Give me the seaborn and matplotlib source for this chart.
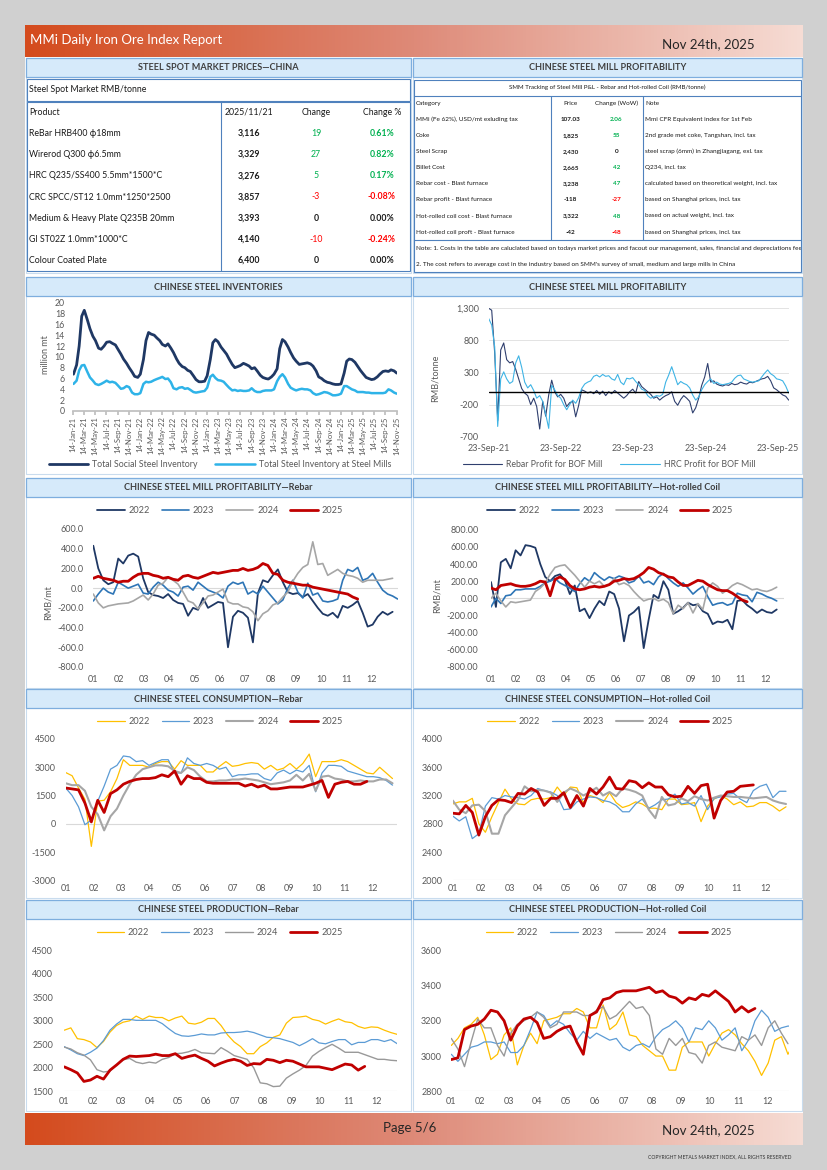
import numpy as np
import pandas as pd
import matplotlib
matplotlib.use("Agg")
import matplotlib.pyplot as plt
import seaborn as sns
from matplotlib.patches import Rectangle
from matplotlib.colors import LinearSegmentedColormap
from matplotlib.transforms import Bbox

# ---------------- table data ----------------
spot_date = "2025/11/21"
spot_products = ["ReBar HRB400 ϕ18mm", "Wirerod Q300 ϕ6.5mm", "HRC Q235/SS400 5.5mm*1500*C",
                 "CRC SPCC/ST12 1.0mm*1250*2500", "Medium & Heavy Plate Q235B 20mm",
                 "GI ST02Z 1.0mm*1000*C", "Colour Coated Plate"]
spot_prices = [3116, 3329, 3276, 3857, 3393, 4140, 6400]
spot_change = [19, 27, 5, -3, 0, -10, 0]
spot_change_pct = [0.61, 0.82, 0.17, -0.08, 0.00, -0.24, 0.00]

pl_categories = ["MMi (Fe 62%), USD/mt exluding tax", "Coke", "Steel Scrap", "Billet Cost",
                 "Rebar cost - Blast furnace", "Rebar profit - Blast furnace",
                 "Hot-rolled coil cost - Blast furnace", "Hot-rolled coil proft - Blast furnace"]
pl_prices = ["107.03", "1,825", "2,430", "2,665", "3,238", "-118", "3,322", "-42"]
pl_change = [2.06, 55, 0, 42, 47, -27, 48, -48]
pl_notes = ["Mmi CFR Equivalent index for 1st Feb", "2nd grade met coke, Tangshan, incl. tax",
            "steel scrap (6mm) in Zhangjiagang, exl. tax", "Q234, incl. tax",
            "calculated based on theoretical weight, incl. tax", "based on Shanghai prices, incl. tax",
            "based on actual weight, incl. tax", "based on Shanghai prices, incl. tax"]

# ---------------- inventories (million mt, semi-monthly from mid Jan-21) ----------------
social_inventory = [
    6.8, 8.5, 12.0, 17.5, 18.6, 16.8, 15.2, 13.8, 13.0, 11.6, 11.4, 12.0, 12.7, 12.8, 12.5, 12.2, 11.4, 10.5, 9.6, 8.8, 8.0, 7.2, 6.4,
    6.2, 6.8, 9.5, 13.0, 14.5, 14.2, 14.0, 13.5, 13.0, 12.3, 12.0, 12.4, 11.6, 10.8, 9.6, 8.8, 8.2, 8.0, 7.5, 7.3, 6.5, 5.8, 5.4, 5.4,
    5.5, 6.5, 9.5, 12.6, 13.2, 12.8, 11.8, 11.2, 10.5, 9.6, 8.6, 8.0, 8.2, 8.4, 8.8, 8.6, 8.3, 7.8, 8.0, 7.4, 6.6, 6.2, 6.0, 5.9,
    6.3, 6.8, 7.8, 11.5, 13.2, 12.8, 11.8, 10.8, 9.8, 9.2, 8.6, 8.7, 8.8, 8.9, 8.7, 8.3, 7.4, 6.3, 6.0, 5.6, 5.3, 5.2, 5.0, 4.9,
    4.9, 5.0, 7.0, 9.2, 9.6, 9.5, 9.0, 8.3, 7.5, 6.9, 6.2, 6.0, 5.8, 5.9, 6.3, 6.8, 7.3, 7.4, 7.3, 7.6, 7.4, 7.0]
mill_inventory = [
    5.0, 5.6, 7.5, 8.4, 8.5, 7.2, 6.2, 5.6, 5.0, 4.8, 5.0, 5.3, 5.6, 5.3, 5.4, 5.2, 4.7, 4.1, 4.2, 4.6, 4.4, 3.4, 3.1,
    3.1, 3.3, 5.0, 5.4, 5.3, 5.4, 5.7, 5.9, 6.1, 6.3, 5.9, 6.0, 5.3, 4.2, 4.0, 4.3, 4.4, 4.1, 4.2, 3.9, 3.5, 3.4, 3.5, 3.6,
    3.7, 4.3, 6.3, 6.7, 6.1, 5.7, 5.6, 5.4, 4.8, 4.3, 3.8, 3.9, 3.7, 3.8, 3.7, 3.7, 3.8, 4.2, 3.7, 3.5, 3.5, 3.7, 3.8, 3.8,
    3.8, 4.0, 5.5, 6.3, 6.8, 6.2, 5.0, 4.3, 4.0, 3.8, 4.0, 4.1, 4.0, 4.0, 3.8, 3.3, 3.0, 3.1, 3.3, 3.5, 3.4, 3.2, 2.9, 2.9,
    3.0, 3.2, 4.6, 4.6, 4.3, 4.0, 3.8, 3.5, 3.5, 3.5, 3.4, 3.4, 3.3, 3.3, 3.3, 3.3, 3.3, 3.4, 4.0, 3.8, 3.4, 3.2]

# ---------------- BOF mill profit (RMB/tonne, semi-monthly Sep-21 .. Nov-25) ----------------
bof_rebar_profit = [
    1300, 1270, 600, -450, 650, 760, 500, 450, 470, 350, 200, 50, -20, -60, -200, -100, -230, -580, -150, -380,
    -50, 180, 0, -80, -40, -100, -230, -170, -150, -390, -210, 30, 10, -20, 0, -30, 20, -40, 10, -60,
    0, -30, 20, -20, -60, -100, -60, 0, 40, -20, 160, 80, 40, 0, -40, -100, -80, -130, -90, -60,
    -40, 0, -150, -210, -120, -60, -100, -150, -330, -250, -100, 100, 230, 440, 150, 170, 120, 100, 90, 110,
    100, 130, 110, 120, 150, 130, 120, 150, 140, 160, 180, 200, 210, 240, 170, 60, 30, -10, -50, -70, -130]
bof_hrc_profit = [
    1140, 1040, 700, -540, 200, 310, 200, 130, 160, 450, 560, 380, 150, 60, 110, 20, -100, -60, -150, -350,
    -570, 100, 30, -60, -100, -200, -280, -200, -130, -180, -90, 50, 120, 150, 170, 240, 260, 230, 270, 240,
    250, 200, 180, 270, 150, 110, 210, 200, 220, 160, 110, 40, 20, -60, -100, -80, -60, -70, -40, 150,
    260, 390, 250, 110, 160, 130, 110, 60, -50, -130, -80, 30, 110, 160, 200, 130, 150, 120, 110, 120,
    130, 150, 210, 250, 260, 200, 180, 160, 150, 160, 170, 230, 290, 340, 280, 250, 200, 190, 170, 90, -20]

# ---------------- rebar profit by year (RMB/mt, every 6 days) ----------------
rebar_profit_2022 = [430, 200, 80, 40, 60, 300, 250, 330, 350, 320, 100, -40, -70, -80, -100, -60, -120, -150, -160, -280,
                     -200, -220, -100, -200, -170, -140, -150, -600, -290, -230, -250, -300, -550, -50, 80, 60, 130, 190, 60, -40,
                     -60, -50, -90, -60, -130, -200, -260, -280, -250, -300, -180, -200, -170, -130, -250, -390, -370, -290, -240, -270, -240]
rebar_profit_2023 = [-130, -60, 0, -40, -60, 60, 30, 0, 20, 40, -50, -60, 10, 60, 30, -20, -40, -80, 10, 20,
                     -20, 60, 20, -20, -40, -60, -100, 20, 60, 40, 60, -60, -30, -60, 20, -40, -100, -160, -120, 0,
                     80, -40, -100, 50, -70, -50, -130, -140, -130, -110, 80, 190, 170, 210, 80, 100, 150, 60, -20, -60, -80, -110]
rebar_profit_2024 = [-60, -150, -200, -180, -170, -160, -155, -150, -130, -100, -70, -120, -60, 30, 50, 110, 80, 40, -40, -130,
                     -150, -210, -150, -80, -70, -40, -10, -140, -160, -160, -190, -200, -240, -330, -260, -230, -170, -150, -90, -40,
                     70, 150, 210, 240, 470, 240, 250, 130, 160, 190, 150, 130, 120, 100, 60, 80, 80, 80, 80, 90, 100]
rebar_profit_2025 = [100, 120, 100, 90, 80, 60, 70, 70, 110, 140, 150, 150, 130, 120, 100, 110, 90, 80, 120, 130,
                     110, 100, 120, 140, 160, 150, 160, 170, 180, 180, 200, 180, 190, 210, 250, 230, 150, 140, 80, 60,
                     50, 40, 30, 30, 10, 0, -10, -20, -30, -40, -50, -60, -90, -110]

# ---------------- HRC profit by year (RMB/mt, every 6 days) ----------------
hrc_profit_2022 = [190, -100, 420, 460, 350, 560, 500, 620, 610, 590, 400, 250, 200, 260, 280, 210, 50, 150, -150, -120,
                   -230, -120, -30, -80, 80, 50, -120, -500, -200, -160, -100, -580, -250, 40, 0, 200, 100, -180, -150, -110,
                   -50, -80, -70, -150, -180, -300, -270, -280, -250, -360, -30, -20, -80, -120, -170, -130, -160, -170, -130]
hrc_profit_2023 = [-100, 0, -60, 30, 40, 100, 100, 110, 110, 110, 140, 180, 200, 230, 180, 150, 120, 80, 170, 240,
                   200, 300, 250, 210, 250, 230, 260, 240, 180, 200, 260, 180, 200, 160, 250, 290, 230, 180, 140, 180,
                   120, 50, 100, 140, 20, -80, -60, -50, -80, -60, 60, 40, 30, -40, 70, 50, 20, 0, -30]
hrc_profit_2024 = [0, 60, -30, -100, -40, -50, -40, -30, -20, 80, 120, 180, 280, 360, 380, 390, 330, 270, 200, 130,
                   200, 170, 200, 140, 160, 230, 160, 180, 150, 80, 20, -30, -10, 0, -30, -10, -50, -180, -80, -120,
                   -50, -170, -60, -130, 120, 180, 140, 60, 100, 150, 180, 160, 130, 100, 110, 90, 80, 100, 130]
hrc_profit_2025 = [120, 100, 150, 160, 170, 150, 140, 140, 150, 170, 200, 190, 30, 220, 250, 220, 150, 110, 100, 110,
                   130, 140, 130, 140, 160, 200, 210, 230, 220, 230, 260, 300, 360, 340, 300, 280, 250, 240, 190, 150,
                   150, 180, 210, 200, 160, 130, 100, 90, 90, 60, 20, -20, -40]

# ---------------- consumption (weekly) ----------------
cons_rebar_2022 = [2720, 2550, 1900, 1300, -1200, 1200, 1250, 1700, 2400, 3400, 3100, 3100, 3100, 3000, 3200, 3300, 3300, 2900,
                   3350, 3100, 3100, 3100, 2750, 2750, 3050, 3300, 3050, 3100, 3200, 3250, 3200, 2900, 3100, 2850, 2950, 3200,
                   2900, 3200, 3700, 2500, 3300, 3300, 3300, 3400, 3300, 3100, 2900, 2700, 2650, 3000, 2700, 2400]
cons_rebar_2023 = [1900, 1500, 900, -50, 200, 1200, 2000, 2900, 3100, 3600, 3550, 3300, 3350, 3100, 3250, 3400, 3400, 2700,
                   2700, 3500, 3200, 3100, 3200, 3100, 2900, 3000, 2500, 2600, 2600, 2650, 2650, 2400, 2300, 2700, 2850, 2650,
                   2850, 2750, 3100, 1700, 2700, 3100, 3100, 3050, 2800, 2700, 2600, 2500, 2500, 2450, 2300, 2050]
cons_rebar_2024 = [2150, 2050, 2050, 1750, 900, 500, -350, 400, 800, 1500, 2100, 2600, 2900, 3000, 3100, 3100, 3050, 2800,
                   2700, 3000, 2850, 2500, 2250, 2250, 2300, 2300, 2350, 2350, 2400, 2350, 2300, 2200, 2100, 2150, 2200, 2300,
                   2600, 2300, 2650, 1750, 2500, 2550, 2400, 2350, 2250, 2250, 2300, 2250, 2250, 2350, 2350, 2150]
cons_rebar_2025 = [1900, 1850, 1800, 1100, 100, 1250, 600, 1600, 1800, 2100, 2250, 2350, 2400, 2400, 2450, 2600, 2500, 2800,
                   2100, 2550, 2400, 2400, 2200, 2150, 2150, 2150, 2150, 2150, 2000, 2100, 1950, 2050, 1850, 1850, 1900, 1950,
                   1950, 1950, 2050, 2150, 2300, 1400, 2100, 2200, 2250, 2100, 2100, 2250]

cons_hrc_2022 = [3080, 3110, 3110, 3160, 2800, 2680, 2900, 3100, 3290, 3150, 3080, 3070, 3140, 3160, 3150, 3170, 3320, 3200,
                 3320, 3310, 3100, 3200, 3170, 3100, 3240, 3100, 3030, 3060, 3110, 3080, 3020, 3020, 3000, 3150, 3150, 3070,
                 3080, 3100, 2830, 3050, 3150, 3200, 3150, 3070, 3110, 3040, 3050, 3100, 3100, 3050, 2980, 3040]
cons_hrc_2023 = [2910, 2840, 2900, 2590, 2660, 3050, 3170, 3150, 3200, 3180, 3170, 3150, 3200, 3300, 3270, 3250, 3200, 3000,
                 3010, 3110, 3150, 3180, 3170, 3130, 3110, 3060, 2970, 2970, 3080, 3150, 3020, 3070, 3140, 3150, 3220, 3080,
                 3100, 3050, 3200, 3000, 3160, 3180, 3220, 3230, 3150, 3100, 3270, 3330, 3360, 3170, 3260, 3260]
cons_hrc_2024 = [3130, 3000, 2950, 3060, 3070, 2980, 2660, 2660, 2920, 3030, 3140, 3330, 3260, 3280, 3270, 3240, 3110, 3240,
                 3300, 3260, 3200, 3250, 3310, 3200, 3250, 3190, 3300, 3280, 3250, 3200, 3000, 2880, 3180, 3060, 3080, 3160,
                 3120, 3190, 3150, 3130, 3170, 3200, 3190, 3180, 3180, 3170, 3160, 3170, 3180, 3130, 3100, 3080]
cons_hrc_2025 = [2950, 2940, 3060, 2960, 2640, 2900, 3060, 3140, 3130, 3100, 3230, 3220, 3300, 3250, 3060, 3160, 3160, 3240,
                 3030, 3200, 3050, 3300, 3220, 3320, 3460, 3300, 3290, 3410, 3390, 3310, 3380, 3320, 3320, 3210, 3180, 3190,
                 3330, 3230, 3340, 3360, 2880, 3130, 3250, 3260, 3330, 3340, 3350]

# ---------------- production (weekly) ----------------
prod_rebar_2022 = [2800, 2850, 2620, 2600, 2550, 2430, 2560, 2760, 2900, 2970, 3000, 3100, 3030, 3100, 3070, 3070, 3000, 3060,
                   3100, 2950, 2930, 2970, 3050, 3050, 2900, 2700, 2550, 2450, 2300, 2300, 2450, 2530, 2650, 2700, 2950, 3070,
                   3080, 3100, 3030, 3000, 2930, 2990, 3040, 2980, 2960, 2880, 2840, 2870, 2860, 2800, 2750, 2710]
prod_rebar_2023 = [2450, 2380, 2300, 2260, 2330, 2420, 2580, 2800, 2930, 3030, 3030, 3010, 3010, 3010, 3010, 2940, 2830, 2730,
                   2680, 2670, 2690, 2720, 2700, 2700, 2740, 2750, 2750, 2760, 2780, 2750, 2700, 2650, 2640, 2620, 2580, 2540,
                   2470, 2540, 2620, 2530, 2510, 2560, 2600, 2600, 2490, 2540, 2540, 2600, 2600, 2560, 2600, 2510]
prod_rebar_2024 = [2440, 2400, 2320, 2270, 2170, 1960, 1910, 1930, 2060, 2170, 2200, 2120, 2090, 2120, 2100, 2180, 2220, 2300,
                   2310, 2340, 2390, 2320, 2310, 2300, 2430, 2350, 2260, 2220, 2180, 2000, 1680, 1660, 1600, 1610, 1780, 1870,
                   1950, 2050, 2250, 2350, 2430, 2500, 2420, 2330, 2330, 2330, 2280, 2230, 2180, 2180, 2160, 2150]
prod_rebar_2025 = [2020, 1960, 1890, 1710, 1740, 1820, 1760, 1950, 2060, 2180, 2250, 2240, 2250, 2260, 2290, 2260, 2260, 2300,
                   2200, 2240, 2270, 2200, 2140, 2040, 2100, 2150, 2180, 2140, 2050, 2090, 2080, 2180, 2160, 2110, 2160, 2140,
                   2080, 2020, 2020, 2020, 1990, 1960, 2020, 2080, 2060, 1950, 2030]

prod_hrc_2022 = [3060, 3100, 3160, 3180, 3220, 3120, 2980, 3010, 3120, 3160, 2950, 3060, 3130, 3070, 3200, 3210, 3220, 3240,
                 3240, 3270, 3250, 3160, 3160, 3290, 3150, 3180, 3250, 3120, 3110, 3060, 3030, 3000, 3000, 2920, 2920, 3050,
                 3080, 3080, 3080, 3000, 3070, 3130, 3150, 3120, 3070, 3030, 2970, 2890, 2960, 3090, 3110, 3010, 3080]
prod_hrc_2023 = [3010, 2970, 3010, 3050, 3060, 3080, 3080, 3070, 3080, 3020, 3020, 3060, 3150, 3250, 3230, 3170, 3200, 3180,
                 3130, 3090, 3140, 3100, 3130, 3110, 3090, 3100, 3050, 3030, 3060, 3070, 3050, 3110, 3150, 3170, 3200, 3160,
                 3080, 3160, 3150, 3200, 3160, 3090, 3120, 3160, 3030, 3090, 3200, 3260, 3220, 3140, 3160, 3170, 3170]
prod_hrc_2024 = [3100, 3040, 2940, 3080, 3210, 3160, 3160, 3060, 3000, 3130, 3180, 3200, 3220, 3250, 3220, 3160, 3180, 3250,
                 3250, 3250, 3230, 3230, 3260, 3280, 3210, 3230, 3270, 3310, 3270, 3280, 3230, 3040, 3010, 3100, 3060, 3100,
                 3020, 3010, 2960, 3060, 3080, 3050, 3040, 3030, 3110, 3090, 3120, 3060, 3160, 3200, 3130, 3070]
prod_hrc_2025 = [2980, 2990, 3150, 3170, 3180, 3210, 3260, 3250, 3200, 3090, 3170, 3210, 3220, 3190, 3100, 3110, 3140, 3160,
                 3170, 3080, 3010, 3230, 3250, 3320, 3330, 3360, 3370, 3370, 3370, 3380, 3390, 3360, 3370, 3340, 3330, 3300,
                 3330, 3320, 3350, 3340, 3370, 3340, 3310, 3250, 3280, 3250, 3270]

month_labels = ["01", "02", "03", "04", "05", "06", "07", "08", "09", "10", "11", "12"]
years = ["2022", "2023", "2024", "2025"]

# ---------------- styling ----------------
sns.set_theme(style="white")
plt.rcParams["font.family"] = ["Lato", "DejaVu Sans"]
plt.rcParams["axes.unicode_minus"] = False

W, H = 828, 1170
fig = plt.figure(figsize=(W / 100, H / 100), dpi=100, facecolor="#d0d0d0")

NAVY = "#1f3864"
BLUE = "#2e75b6"
GREY = "#a6a6a6"
RED = "#c00000"
YELLOW = "#ffc000"
LBLUE = "#5b9bd5"
TXT = "#595959"
GREEN = "#00b050"
NEG = "#ff0000"


def box(x0, y0, x1, y1):
    return [x0 / W, 1 - y1 / H, (x1 - x0) / W, (y1 - y0) / H]


page = fig.add_axes([0, 0, 1, 1])
page.axis("off")
page.add_patch(Rectangle((25, 57), 778, 1056, fc="white", ec="none"))

hdr_cmap = LinearSegmentedColormap.from_list("hdr", ["#d44b1d", "#de8a78", "#f6dcd4"])
grad = np.linspace(0, 1, 256)[None, :]
page.imshow(grad, extent=(25, 803, 57, 25), cmap=hdr_cmap, aspect="auto", zorder=1)
page.imshow(grad, extent=(25, 803, 1145, 1113), cmap=hdr_cmap, aspect="auto", zorder=1)
page.set_xlim(0, W)
page.set_ylim(H, 0)

page.text(30, 40, "MMi Daily Iron Ore Index Report", color="white", fontsize=9.5, va="center", ha="left")
page.text(755, 44, "Nov 24th, 2025", color="#262626", fontsize=9.5, va="center", ha="right")
page.text(410, 1128, "Page 5/6", color="#262626", fontsize=9.5, va="center", ha="center")
page.text(755, 1130, "Nov 24th, 2025", color="#262626", fontsize=9.5, va="center", ha="right")
page.text(792, 1157, "COPYRIGHT METALS MARKET INDEX, ALL RIGHTS RESERVED", color="#333333",
          fontsize=3.6, va="center", ha="right")

rows = [(58, 273), (277, 474), (478, 688), (689, 898), (900, 1111)]
cols = [(26, 411), (413, 802)]
titles = [["STEEL SPOT MARKET PRICES—CHINA", "CHINESE STEEL MILL PROFITABILITY"],
          ["CHINESE STEEL INVENTORIES", "CHINESE STEEL MILL PROFITABILITY"],
          ["CHINESE STEEL MILL PROFITABILITY—Rebar", "CHINESE STEEL MILL PROFITABILITY—Hot-rolled Coil"],
          ["CHINESE STEEL CONSUMPTION—Rebar", "CHINESE STEEL CONSUMPTION—Hot-rolled Coil"],
          ["CHINESE STEEL PRODUCTION—Rebar", "CHINESE STEEL PRODUCTION—Hot-rolled Coil"]]
for r, (y0, y1) in enumerate(rows):
    for c, (x0, x1) in enumerate(cols):
        page.add_patch(Rectangle((x0, y0), x1 - x0, y1 - y0, fc="white", ec="#c9dcee", lw=0.8, zorder=2))
        page.add_patch(Rectangle((x0, y0), x1 - x0, 19, fc="#d6eafa", ec="#7eaede", lw=0.9, zorder=2))
        page.text((x0 + x1) / 2, y0 + 10, titles[r][c], ha="center", va="center", fontsize=6.6,
                  fontweight="bold", color="#404040", zorder=3)

# ---------------- left table ----------------
LINE = "#4f81bd"
page.add_patch(Rectangle((27, 79), 383, 22, fc="none", ec=LINE, lw=0.8, zorder=3))
page.add_patch(Rectangle((27, 102), 383, 169, fc="none", ec=LINE, lw=0.8, zorder=3))
page.plot([220.7, 220.7], [102, 271], color=LINE, lw=0.8, zorder=3)
page.text(29, 90, "Steel Spot Market RMB/tonne", fontsize=6.3, va="center", color="#1a1a1a", zorder=4)
row_y = [112.3 + 21.15 * i for i in range(len(spot_products) + 1)]
page.text(29, row_y[0], "Product", fontsize=6.3, va="center", color="#1a1a1a", zorder=4)
page.text(249, row_y[0], spot_date, fontsize=6.3, va="center", ha="center", color="#1a1a1a", zorder=4)
page.text(316, row_y[0], "Change", fontsize=6.3, va="center", ha="center", color="#1a1a1a", zorder=4)
page.text(382, row_y[0], "Change %", fontsize=6.3, va="center", ha="center", color="#1a1a1a", zorder=4)
for i, prod in enumerate(spot_products):
    y = row_y[i + 1]
    ch = spot_change[i]
    col = GREEN if ch > 0 else (NEG if ch < 0 else "#1a1a1a")
    page.text(29, y, prod, fontsize=6.3, va="center", color="#1a1a1a", zorder=4)
    page.text(249, y, f"{spot_prices[i]:,}", fontsize=6.3, va="center", ha="center", fontweight="bold",
              color="#1a1a1a", zorder=4)
    page.text(316, y, f"{ch}", fontsize=6.3, va="center", ha="center", color=col,
              fontweight="bold" if ch == 0 else "normal", zorder=4)
    page.text(382, y, f"{spot_change_pct[i]:.2f}%", fontsize=6.3, va="center", ha="center", color=col,
              fontweight="bold", zorder=4)

# ---------------- right table ----------------
FS = 4.6
page.add_patch(Rectangle((414, 80), 387, 191.5, fc="none", ec=LINE, lw=0.8, zorder=3))
page.plot([414, 801], [95.7, 95.7], color=LINE, lw=0.8, zorder=3)
page.plot([414, 801], [240, 240], color=LINE, lw=0.8, zorder=3)
page.plot([551, 551], [95.7, 240], color=LINE, lw=0.8, zorder=3)
page.plot([642.7, 642.7], [95.7, 240], color=LINE, lw=0.8, zorder=3)
page.text(607.5, 87.5, "SMM Tracking of Steel Mill P&L - Rebar and Hot-rolled Coil (RMB/tonne)", fontsize=4.4,
          ha="center", va="center", color="#1a1a1a", zorder=4)
pl_y = [103.3 + 16.1 * i for i in range(len(pl_categories) + 1)]
for x, s, ha in [(416, "Category", "left"), (570.7, "Price", "center"), (616.5, "Change (WoW)", "center"),
                 (645, "Note", "left")]:
    page.text(x, pl_y[0], s, fontsize=FS, ha=ha, va="center", color="#1a1a1a", zorder=4)
for i, cat in enumerate(pl_categories):
    y = pl_y[i + 1]
    ch = pl_change[i]
    col = GREEN if ch > 0 else (NEG if ch < 0 else "#1a1a1a")
    page.text(416, y, cat, fontsize=FS, va="center", color="#1a1a1a", zorder=4)
    page.text(570.7, y, pl_prices[i], fontsize=FS, va="center", ha="center", fontweight="bold",
              color="#1a1a1a", zorder=4)
    page.text(616.5, y, f"{ch:g}", fontsize=FS, va="center", ha="center",
              color=col, fontweight="bold", zorder=4)
    page.text(645, y, pl_notes[i], fontsize=FS, va="center", color="#1a1a1a", zorder=4)
clip = Bbox.from_extents(414, H - 271.5, 801, H - 80)
for y, s in [(248.7, "Note: 1. Costs in the table are caluclated based on todays market prices and facout our "
                     "management, sales, financial and depreciations fee"),
             (264.3, "2. The cost refers to average cost in the industry based on SMM's survey of small, "
                     "medium and large mills in China")]:
    t = page.text(416, y, s, fontsize=FS, va="center", color="#1a1a1a", zorder=4)
    t.set_clip_box(clip)
    t.set_clip_on(True)


def clean(ax):
    ax.set_facecolor("none")
    for s in ax.spines.values():
        s.set_visible(False)


# ---------------- inventories ----------------
ax = fig.add_axes(box(73.3, 302.7, 396.7, 411))
clean(ax)
sns.lineplot(x=pd.date_range("2021-01-15", periods=len(social_inventory), freq="SMS"), y=social_inventory,
             ax=ax, color=NAVY, linewidth=2.0, label="Total Social Steel Inventory")
sns.lineplot(x=pd.date_range("2021-01-15", periods=len(mill_inventory), freq="SMS"), y=mill_inventory,
             ax=ax, color="#2eb3e8", linewidth=1.8, label="Total Steel Inventory at Steel Mills")
ax.set_xlim(pd.Timestamp("2021-01-14"), pd.Timestamp("2025-11-15"))
ax.set_ylim(0, 20)
ax.set_yticks(np.arange(0, 21, 2))
tick_dates = pd.date_range("2021-01-14", "2025-11-14", freq=pd.DateOffset(months=2))
ax.set_xticks(tick_dates)
ax.set_xticklabels([d.strftime("%d-%b-%y") for d in tick_dates], rotation=90)
ax.spines["bottom"].set_visible(True)
ax.spines["bottom"].set_color("#bfbfbf")
ax.tick_params(axis="x", length=3, color="#bfbfbf", labelsize=5.6, labelcolor=TXT, pad=1, bottom=True)
ax.tick_params(axis="y", length=0, labelsize=6.3, labelcolor=TXT, pad=6)
ax.set_xlabel("")
ax.set_ylabel("")
ax.legend(loc="center", bbox_to_anchor=(220 / W, 1 - 465 / H), bbox_transform=fig.transFigure, ncol=2,
          frameon=False, fontsize=6.3, labelcolor=TXT, handlelength=4.5, columnspacing=2.0, handletextpad=0.5)
page.text(46, 355, "million mt", rotation=90, fontsize=6.5, color=TXT, ha="center", va="center", zorder=4)

# ---------------- BOF profit ----------------
ax = fig.add_axes(box(488.7, 308.3, 788.7, 436.7))
clean(ax)
for yv in [1300, 800, 300, -200, -700]:
    ax.axhline(yv, color="#e3e3e3", lw=0.7, zorder=0)
sns.lineplot(x=pd.date_range("2021-09-23", "2025-11-19", periods=len(bof_rebar_profit)), y=bof_rebar_profit,
             ax=ax, color="#2f3f6e", linewidth=0.8, label="Rebar Profit for BOF Mill")
sns.lineplot(x=pd.date_range("2021-09-23", "2025-11-19", periods=len(bof_hrc_profit)), y=bof_hrc_profit,
             ax=ax, color="#3fb4e5", linewidth=0.8, label="HRC Profit for BOF Mill")
ax.axhline(0, color="black", lw=1.0, zorder=5)
ax.set_xlim(pd.Timestamp("2021-09-23"), pd.Timestamp("2025-11-19"))
ax.set_ylim(-700, 1300)
ax.set_yticks([-700, -200, 300, 800, 1300])
ax.set_yticklabels([f"{v:,}" for v in [-700, -200, 300, 800, 1300]])
xt = pd.date_range("2021-09-23", "2025-09-23", freq=pd.DateOffset(years=1))
ax.set_xticks(xt)
ax.set_xticklabels([d.strftime("%d-%b-%y") for d in xt])
ax.tick_params(length=0, labelsize=6.5, labelcolor=TXT)
ax.tick_params(axis="y", pad=7)
ax.tick_params(axis="x", pad=5)
ax.set_xlabel("")
ax.set_ylabel("")
ax.legend(loc="center", bbox_to_anchor=(609 / W, 1 - 465 / H), bbox_transform=fig.transFigure, ncol=2,
          frameon=False, fontsize=6.3, labelcolor=TXT, handlelength=4.5, columnspacing=2.0, handletextpad=0.5)
page.text(435, 378, "RMB/tonne", rotation=90, fontsize=6.5, color=TXT, ha="center", va="center", zorder=4)


# ---------------- seasonal charts ----------------
def season_chart(x0, x1, y0, y1, xmax, ylim, yticks, fmt, series, legend_xy, ypad, xpad):
    ax = fig.add_axes(box(x0, y0, x1, y1))
    clean(ax)
    ax.axhline(max(0, ylim[0]), color="#d9d9d9", lw=0.8, zorder=0)
    for label, step, vals, color, lw in series:
        sns.lineplot(x=np.arange(len(vals)) * step, y=vals, ax=ax, color=color, linewidth=lw, label=label)
    ax.set_xlim(0, xmax)
    ax.set_ylim(*ylim)
    ax.set_yticks(yticks)
    ax.set_yticklabels([fmt.format(v) for v in yticks])
    ax.set_xticks(np.arange(12) * 30.44)
    ax.set_xticklabels(month_labels)
    ax.tick_params(length=0, labelsize=6.5, labelcolor=TXT)
    ax.tick_params(axis="y", pad=ypad)
    ax.tick_params(axis="x", pad=xpad)
    ax.set_xlabel("")
    ax.set_ylabel("")
    ax.legend(loc="center", bbox_to_anchor=(legend_xy[0] / W, 1 - legend_xy[1] / H),
              bbox_transform=fig.transFigure, ncol=4, frameon=False, fontsize=6.6, labelcolor=TXT,
              handlelength=3.0, handletextpad=0.4, columnspacing=1.3)
    return ax


season_chart(93.3, 397.6, 529, 667, 366, (-800, 600), np.arange(-800, 601, 200), "{:.1f}",
             [(years[0], 6, rebar_profit_2022, NAVY, 1.3), (years[1], 6, rebar_profit_2023, BLUE, 1.2),
              (years[2], 6, rebar_profit_2024, GREY, 1.2), (years[3], 6, rebar_profit_2025, RED, 2.0)],
             (220, 510.7), 7, 5.5)
page.text(48, 603, "RMB/mt", rotation=90, fontsize=6.5, color=TXT, ha="center", va="center", zorder=4)

season_chart(491, 784.1, 529.7, 667, 357, (-800, 800), np.arange(-800, 801, 200), "{:.2f}",
             [(years[0], 6, hrc_profit_2022, NAVY, 1.3), (years[1], 6, hrc_profit_2023, BLUE, 1.2),
              (years[2], 6, hrc_profit_2024, GREY, 1.2), (years[3], 6, hrc_profit_2025, RED, 2.0)],
             (610, 510.7), 9, 5.5)
page.text(437, 596, "RMB/mt", rotation=90, fontsize=6.5, color=TXT, ha="center", va="center", zorder=4)

season_chart(65.7, 397.1, 739, 880.3, 362, (-3000, 4500), np.arange(-3000, 4501, 1500), "{:.0f}",
             [(years[0], 7, cons_rebar_2022, YELLOW, 0.9), (years[1], 7, cons_rebar_2023, LBLUE, 0.9),
              (years[2], 7, cons_rebar_2024, GREY, 1.5), (years[3], 7, cons_rebar_2025, RED, 2.0)],
             (220, 721.3), 7, 3)

season_chart(452.7, 788.8, 739, 880.3, 360, (2000, 4000), np.arange(2000, 4001, 400), "{:.0f}",
             [(years[0], 7, cons_hrc_2022, YELLOW, 0.9), (years[1], 7, cons_hrc_2023, LBLUE, 0.9),
              (years[2], 7, cons_hrc_2024, GREY, 1.5), (years[3], 7, cons_hrc_2025, RED, 2.0)],
             (610, 721.3), 7, 3)

season_chart(64.3, 397.4, 950.3, 1091.3, 357, (1500, 4500), np.arange(1500, 4501, 500), "{:.0f}",
             [(years[0], 7, prod_rebar_2022, YELLOW, 0.9), (years[1], 7, prod_rebar_2023, LBLUE, 0.9),
              (years[2], 7, prod_rebar_2024, "#999999", 1.0), (years[3], 7, prod_rebar_2025, RED, 2.0)],
             (219.5, 932.7), 8, 4)

season_chart(451.3, 788.9, 950.3, 1091.3, 358, (2800, 3600), np.arange(2800, 3601, 200), "{:.0f}",
             [(years[0], 7, prod_hrc_2022, YELLOW, 0.9), (years[1], 7, prod_hrc_2023, LBLUE, 0.9),
              (years[2], 7, prod_hrc_2024, "#999999", 1.0), (years[3], 7, prod_hrc_2025, RED, 2.0)],
             (608.7, 932.7), 6.7, 4)

fig.savefig("out.png", dpi=100, facecolor=fig.get_facecolor())
